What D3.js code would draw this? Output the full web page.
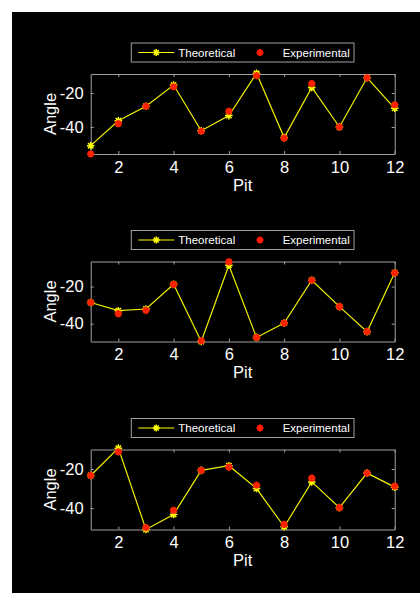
<!DOCTYPE html>
<html>
<head>
<meta charset="utf-8">
<script src="https://cdn.jsdelivr.net/npm/d3@7"></script>
<style>
  body { margin: 0; background: #fff; }
  svg { display: block; }
  text { font-family: "Liberation Sans", Arial, sans-serif; fill: #fff; }
</style>
</head>
<body>
<div id="chart"></div>
<script>
// values
const pits = [1, 2, 3, 4, 5, 6, 7, 8, 9, 10, 11, 12];
const xTicks = [2, 4, 6, 8, 10, 12];
const yTicks = [-40, -20];

const theo1 = [-51, -36.3, -27.8, -15.3, -42.2, -33.3, -8.4, -46.2, -16.7, -40, -11, -29];
const exp1  = [-55.9, -38, -27.8, -16.3, -42.5, -30.8, -9.8, -46.5, -14.5, -40, -11, -26.9];
const theo2 = [-28.6, -33, -32.1, -18.8, -49.6, -8.5, -47.4, -39.7, -16.6, -30.8, -44.3, -12.6];
const exp2  = [-28.6, -34.6, -32.8, -18.8, -49.2, -6.7, -47.4, -39.7, -16.6, -30.8, -44.3, -12.6];
const theo3 = [-23.3, -9.3, -51, -43.3, -20.7, -18.3, -30, -49.6, -26.6, -39.8, -22.1, -29.3];
const exp3  = [-23.3, -11.2, -50, -41.2, -20.7, -19, -28.3, -48.4, -24.7, -39.8, -22.1, -28.8];

const yDomain1 = [-55.9, -8.8];
const yDomain2 = [-49.6, -6.5];
const yDomain3 = [-51, -10];

const width = 420, height = 593;
const axisColor = "#a0a0a0";
const left = 90.7, right = 394.7, panelH = 80;

const svg = d3.select("#chart").append("svg")
  .attr("width", width)
  .attr("height", height);

svg.append("rect")
  .attr("x", 12).attr("y", 12)
  .attr("width", width - 12).attr("height", height - 12)
  .attr("fill", "#000");

const x = d3.scaleLinear().domain([1, 12]).range([left, right]);

function star(r) {
  const d = r * 0.707;
  return `M${-r},0L${r},0M0,${-r}L0,${r}M${-d},${-d}L${d},${d}M${-d},${d}L${d},${-d}`;
}

function drawPanel(top, theo, expv, yDomain) {
  const bottom = top + panelH;
  const y = d3.scaleLinear().domain(yDomain).range([bottom, top]);
  const g = svg.append("g");

  // legend
  const lx = left + 40.6, ly = top - 31, lw = 222.7, lh = 19;
  const leg = g.append("g").attr("transform", `translate(${lx},${ly})`);
  leg.append("rect")
    .attr("width", lw).attr("height", lh)
    .attr("fill", "#000").attr("stroke", axisColor).attr("stroke-width", 1);
  leg.append("line")
    .attr("x1", 7).attr("x2", 43).attr("y1", lh / 2).attr("y2", lh / 2)
    .attr("stroke", "#ffff00").attr("stroke-width", 1.2);
  leg.append("path").attr("d", star(3.5))
    .attr("transform", `translate(25,${lh / 2})`)
    .attr("stroke", "#ffff00").attr("stroke-width", 1.5);
  leg.append("text").attr("x", 47).attr("y", lh / 2 + 4)
    .style("font-size", "11.5px").text("Theoretical");
  leg.append("path").attr("d", star(3.5))
    .attr("transform", `translate(128.7,${lh / 2})`)
    .attr("stroke", "#ff1a00").attr("stroke-width", 2);
  leg.append("text").attr("x", 151.4).attr("y", lh / 2 + 4)
    .style("font-size", "11.5px").text("Experimental");

  // axes: box with inward ticks
  const xb = g.append("g").attr("transform", `translate(0,${bottom})`)
    .call(d3.axisBottom(x).tickValues(xTicks).tickSizeInner(-3).tickSizeOuter(0).tickPadding(7));
  const xt = g.append("g").attr("transform", `translate(0,${top})`)
    .call(d3.axisTop(x).tickValues(xTicks).tickSizeInner(-3).tickSizeOuter(0).tickFormat(""));
  const yl = g.append("g").attr("transform", `translate(${left},0)`)
    .call(d3.axisLeft(y).tickValues(yTicks).tickSizeInner(-3).tickSizeOuter(0).tickPadding(7));
  const yr = g.append("g").attr("transform", `translate(${right},0)`)
    .call(d3.axisRight(y).tickValues(yTicks).tickSizeInner(-3).tickSizeOuter(0).tickFormat(""));
  [xb, xt, yl, yr].forEach(a => {
    a.select(".domain").attr("stroke", axisColor);
    a.selectAll(".tick line").attr("stroke", axisColor);
    a.selectAll("text").attr("fill", "#fff")
      .style("font-family", '"Liberation Sans", Arial, sans-serif')
      .style("font-size", "16.5px");
  });
  yl.selectAll("text").text(d => "-" + Math.abs(d));

  g.append("text")
    .attr("x", (left + right) / 2).attr("y", bottom + 36.7)
    .attr("text-anchor", "middle").style("font-size", "16.5px").text("Pit");
  g.append("text")
    .attr("transform", `translate(55.5,${(top + bottom) / 2}) rotate(-90)`)
    .attr("text-anchor", "middle").style("font-size", "16.5px").text("Angle");

  // theoretical line + markers
  const line = d3.line().x((d, i) => x(pits[i])).y(d => y(d));
  g.append("path").datum(theo)
    .attr("d", line).attr("fill", "none")
    .attr("stroke", "#f0f000").attr("stroke-width", 1.2);
  g.selectAll(".tm").data(theo).enter().append("path")
    .attr("d", star(3.8))
    .attr("transform", (d, i) => `translate(${x(pits[i])},${y(d)})`)
    .attr("stroke", "#ffff00").attr("stroke-width", 1.5);
  g.selectAll(".em").data(expv).enter().append("path")
    .attr("d", star(3.6))
    .attr("transform", (d, i) => `translate(${x(pits[i])},${y(d)})`)
    .attr("stroke", "#ff2200").attr("stroke-width", 2.2);
}

drawPanel(74, theo1, exp1, yDomain1);
drawPanel(261.5, theo2, exp2, yDomain2);
drawPanel(449.5, theo3, exp3, yDomain3);
</script>
</body>
</html>
